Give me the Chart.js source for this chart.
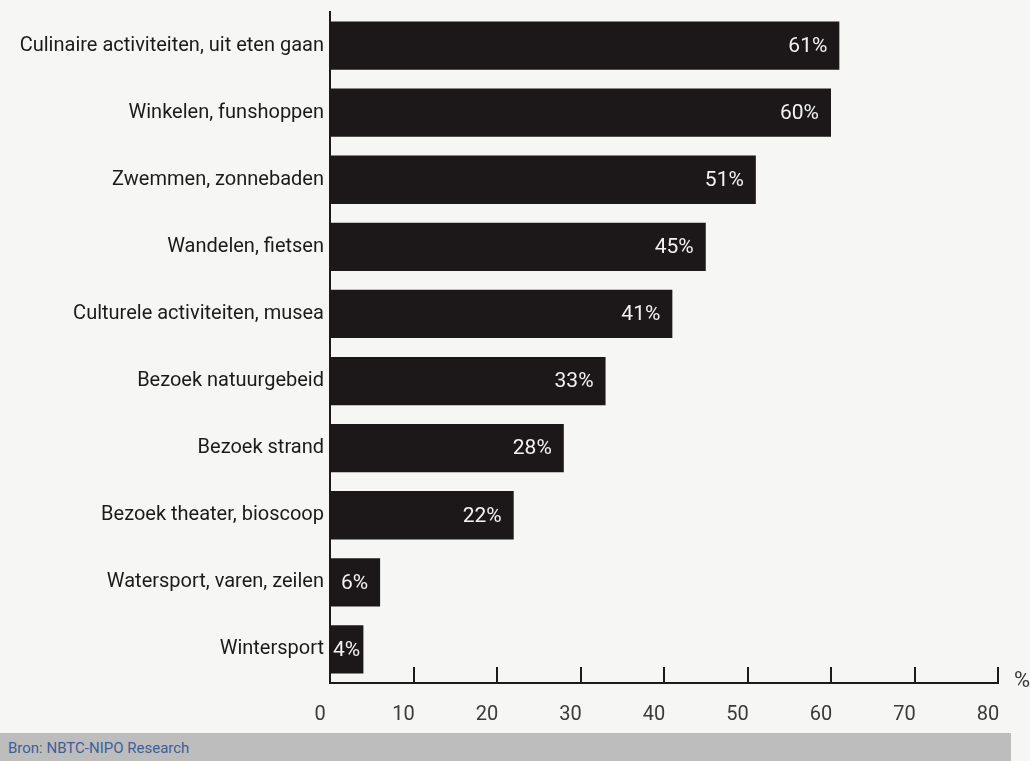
<!DOCTYPE html>
<html>
<head>
<meta charset="utf-8">
<script src="https://cdn.jsdelivr.net/npm/chart.js@4/dist/chart.umd.min.js"></script>
<style>
  html, body { margin: 0; padding: 0; background: #f6f6f5; }
  #wrap { position: relative; width: 1030px; height: 761px; overflow: hidden; }
  #c { position: absolute; left: 0; top: 0; }
  #bron {
    position: absolute; left: 0; top: 733px; width: 1011px; height: 28px;
    background: #bdbdbd; color: #3f5f97;
    font: 15px "Roboto", sans-serif;
    line-height: 30px; padding-left: 8px; box-sizing: border-box;
  }
</style>
</head>
<body>
<div id="wrap">
  <canvas id="c" width="1030" height="733"></canvas>
  <div id="bron">Bron: NBTC-NIPO Research</div>
</div>
<script>
// categorieën en waarden (%)
const activiteiten = [
  "Culinaire activiteiten, uit eten gaan",
  "Winkelen, funshoppen",
  "Zwemmen, zonnebaden",
  "Wandelen, fietsen",
  "Culturele activiteiten, musea",
  "Bezoek natuurgebeid",
  "Bezoek strand",
  "Bezoek theater, bioscoop",
  "Watersport, varen, zeilen",
  "Wintersport",
];
const percentages = [61, 60, 51, 45, 41, 33, 28, 22, 6, 4];
const xTicks = [0, 10, 20, 30, 40, 50, 60, 70, 80];

const FONT = "Roboto";
const INK = "#1c1a1a";

// tick streepjes naar boven + % teken
const axisExtras = {
  id: "axisExtras",
  afterDraw(chart) {
    const ctx = chart.ctx;
    const x = chart.scales.x;
    const bottom = chart.chartArea.bottom;
    ctx.save();
    ctx.strokeStyle = INK;
    ctx.lineWidth = 2;
    xTicks.slice(1).forEach((v) => {
      const px = Math.round(x.getPixelForValue(v));
      ctx.beginPath();
      ctx.moveTo(px, bottom - 16);
      ctx.lineTo(px, bottom);
      ctx.stroke();
    });
    ctx.fillStyle = "#3a3a3a";
    ctx.font = "22px " + FONT;
    ctx.textAlign = "left";
    ctx.textBaseline = "middle";
    ctx.fillText("%", chart.chartArea.right + 16, bottom - 2);
    ctx.restore();
  },
};

// waardelabels in de balken
const valueLabels = {
  id: "valueLabels",
  afterDatasetsDraw(chart) {
    const ctx = chart.ctx;
    const meta = chart.getDatasetMeta(0);
    ctx.save();
    ctx.fillStyle = "#f2f2f2";
    ctx.font = "21px " + FONT;
    ctx.textBaseline = "middle";
    ctx.textAlign = "left";
    meta.data.forEach((bar, i) => {
      const txt = percentages[i] + "%";
      const w = ctx.measureText(txt).width;
      const left = Math.max(bar.x - 12 - w, chart.chartArea.left + 3);
      ctx.fillText(txt, left, bar.y + 1);
    });
    ctx.restore();
  },
};

new Chart(document.getElementById("c").getContext("2d"), {
  type: "bar",
  data: {
    labels: activiteiten,
    datasets: [
      {
        data: percentages,
        backgroundColor: "#1c1819",
        borderWidth: 0,
        barPercentage: 0.72,
        categoryPercentage: 1,
      },
    ],
  },
  options: {
    indexAxis: "y",
    responsive: false,
    animation: false,
    layout: { padding: { top: 12, right: 32, left: 0, bottom: 0 } },
    plugins: { legend: { display: false }, tooltip: { enabled: false } },
    scales: {
      x: {
        min: 0,
        max: 80,
        afterFit: (s) => { s.height = 50; s.paddingLeft = 0; s.paddingRight = 0; },
        afterBuildTicks: (s) => { s.ticks = xTicks.map((v) => ({ value: v })); },
        grid: { display: false, drawTicks: false, tickLength: 0 },
        border: { display: true, color: INK, width: 2 },
        ticks: {
          color: "#3a3a3a",
          font: { family: FONT, size: 20 },
          padding: 20,
          labelOffset: -10,
        },
      },
      y: {
        afterFit: (s) => { s.width = 330; s.paddingTop = 0; s.paddingBottom = 0; },
        grid: { display: false, drawTicks: false, tickLength: 0 },
        border: { display: true, color: INK, width: 2 },
        ticks: {
          color: INK,
          font: { family: FONT, size: 20 },
          padding: 6,
        },
      },
    },
  },
  plugins: [axisExtras, valueLabels],
});
</script>
</body>
</html>
